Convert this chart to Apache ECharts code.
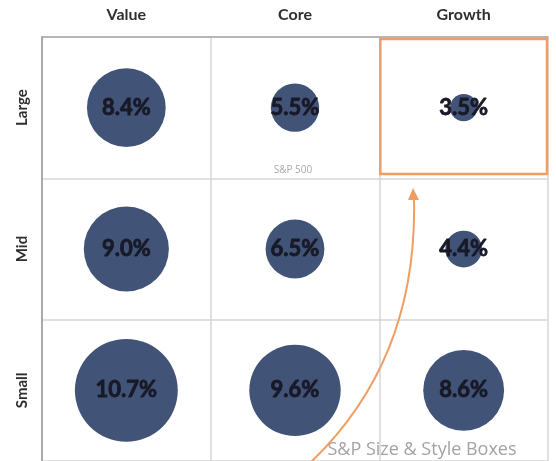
<!DOCTYPE html>
<html>
<head>
<meta charset="utf-8">
<script src="https://cdn.jsdelivr.net/npm/echarts@6/dist/echarts.min.js"></script>
<style>
  html, body { margin: 0; padding: 0; background: #ffffff; }
  #chart { width: 556px; height: 461px; }
</style>
</head>
<body>
<div id="chart"></div>
<script>
// Style columns and size rows of the box grid
const styles = ['Value', 'Core', 'Growth'];
const sizes = ['Large', 'Mid', 'Small'];

// Returns (%) per size row, ordered Value, Core, Growth
const largeReturns = [8.4, 5.5, 3.5];
const midReturns = [9.0, 6.5, 4.4];
const smallReturns = [10.7, 9.6, 8.6];

const rows = [largeReturns, midReturns, smallReturns];
const points = [];
rows.forEach((vals, r) => {
  vals.forEach((v, c) => points.push([styles[c], sizes[r], v]));
});

const GRID = { left: 42, top: 37, width: 506, height: 429 };
const bubbleColor = '#425378';
const accent = '#ef9d62';

const chart = echarts.init(document.getElementById('chart'), null, { renderer: 'canvas' });

chart.setOption({
  animation: false,
  backgroundColor: '#ffffff',
  grid: GRID,
  xAxis: {
    type: 'category',
    data: styles,
    position: 'top',
    boundaryGap: true,
    axisLine: { show: true, lineStyle: { color: '#a8a8a8', width: 1.5 } },
    axisTick: { show: false },
    splitLine: { show: true, lineStyle: { color: '#d6d6d6', width: 1.5 } },
    axisLabel: {
      margin: 14,
      color: '#2e2e2e',
      fontFamily: 'Lato',
      fontWeight: 'bold',
      fontSize: 16
    }
  },
  yAxis: {
    type: 'category',
    data: sizes,
    inverse: true,
    boundaryGap: true,
    axisLine: { show: true, lineStyle: { color: '#999999', width: 1.5 } },
    axisTick: { show: false },
    splitLine: { show: true, lineStyle: { color: '#d6d6d6', width: 1.5 } },
    axisLabel: {
      rotate: 90,
      margin: 12,
      color: '#2e2e2e',
      fontFamily: 'Lato',
      fontWeight: 'bold',
      fontSize: 15
    }
  },
  series: [{
    type: 'scatter',
    data: points,
    symbol: 'circle',
    symbolSize: d => 10.5 * (d[2] - 0.9),
    itemStyle: { color: bubbleColor, opacity: 1 },
    label: {
      show: true,
      position: 'inside',
      formatter: p => p.value[2].toFixed(1) + '%',
      color: '#171926',
      fontFamily: 'Lato',
      fontWeight: 'bold',
      fontSize: 22,
      textBorderColor: '#171926',
      textBorderWidth: 0.8
    },
    z: 3
  }]
});

// Annotations: highlighted cell, S&P labels and curved arrow
const cellW = GRID.width / 3;
const cellH = GRID.height / 3;
const gx = GRID.left + 2 * cellW;
const gy = GRID.top;

chart.setOption({
  graphic: [
    {
      type: 'rect',
      shape: { x: gx + 1, y: gy + 2, width: cellW - 2, height: cellH - 8 },
      style: { fill: 'none', stroke: accent, lineWidth: 2.5 },
      z: 10
    },
    {
      type: 'text',
      x: GRID.left + 1.5 * cellW - 2,
      y: GRID.top + cellH - 10,
      style: {
        text: 'S&P 500',
        fill: '#aaaaaa',
        font: '10px "Open Sans"',
        align: 'center',
        verticalAlign: 'middle'
      },
      z: 10
    },
    {
      type: 'text',
      x: 422,
      y: 450,
      style: {
        text: 'S&P Size & Style Boxes',
        fill: '#a3a3a3',
        font: '18px "Open Sans"',
        align: 'center',
        verticalAlign: 'middle'
      },
      z: 10
    },
    {
      type: 'bezierCurve',
      shape: { x1: 310, y1: 463, cpx1: 418, cpy1: 360, x2: 414, y2: 198 },
      style: { fill: 'none', stroke: accent, lineWidth: 2 },
      z: 11
    },
    {
      type: 'polygon',
      shape: { points: [[413, 188], [408, 200], [419, 200]] },
      style: { fill: accent },
      z: 11
    }
  ]
});
</script>
</body>
</html>
